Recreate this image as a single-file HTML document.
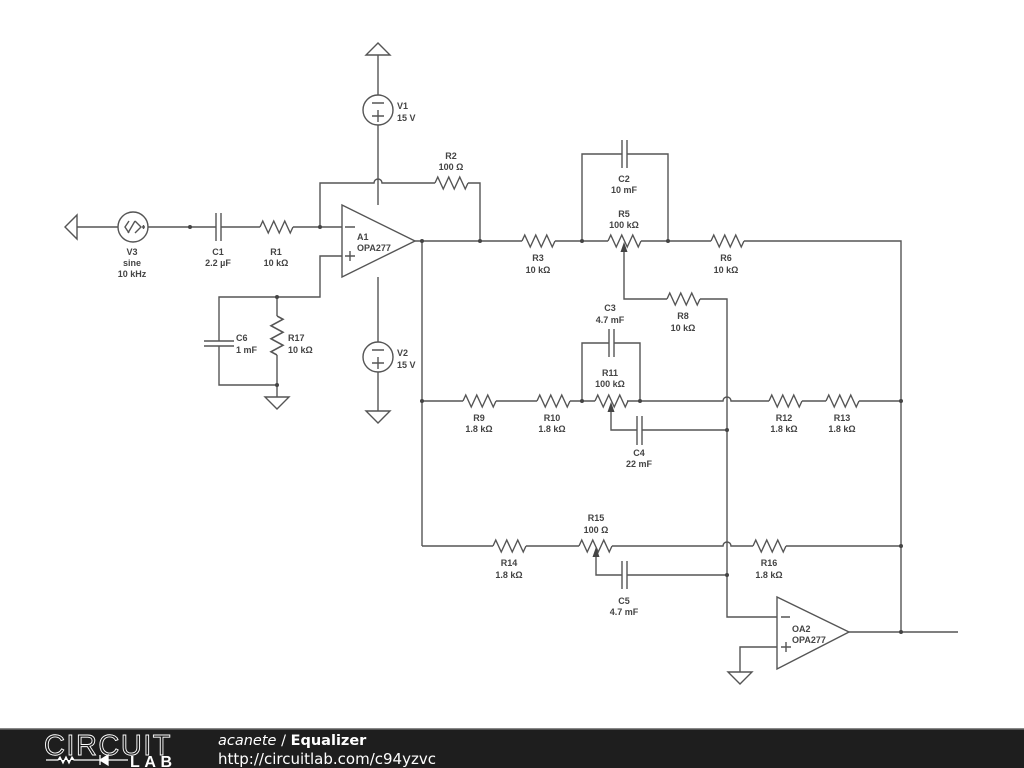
<!DOCTYPE html>
<html><head><meta charset="utf-8">
<style>
html,body{margin:0;padding:0;background:#fff;width:1024px;height:768px;overflow:hidden}
svg{display:block}
.w{fill:none;stroke:#555;stroke-width:1.4}
.t{font-family:"Liberation Sans",sans-serif;font-size:9px;font-weight:bold;fill:#444}
.d{fill:#444}
</style></head><body>
<svg width="1024" height="768" viewBox="0 0 1024 768" xmlns="http://www.w3.org/2000/svg">
<defs>
<path id="rz" d="M0,0 l2.75,-6 l5.5,12 l5.5,-12 l5.5,12 l5.5,-12 l5.5,12 l2.75,-6"/>
</defs>
<g class="w">
<path d="M378,43 L366,55 L390,55 Z"/>
<path d="M378,55 V95"/>
<circle cx="378" cy="110" r="15"/>
<path d="M372,103 H384 M372,116 H384 M378,110 V122"/>
<path d="M378,125 V205"/>
<path d="M378,277 V342"/>
<circle cx="378" cy="357" r="15"/>
<path d="M372,350 H384 M372,363 H384 M378,357 V369"/>
<path d="M378,372 V411 M366,411 H390 L378,423 Z"/>
<path d="M342,205 L342,277 L415,241 Z"/>
<path d="M345,227 H355 M345,256 H355 M350,251 V261"/>
<path d="M65,227 L77,215 L77,239 Z"/>
<path d="M77,227 H118"/>
<circle cx="133" cy="227" r="15"/>
<path d="M129,221 l-4,6 l4,6 M128,233 l7,-12 M135,233 l6,-6 l-6,-6 M142,227 h3 M143.5,225 v4"/>
<path d="M148,227 H216 M216,213 V241 M221,213 V241 M221,227 H260"/>
<use href="#rz" x="260" y="227"/>
<path d="M293,227 H342"/>
<path d="M320,227 V183 H374 a4,4 0 0 1 8,0 H435"/>
<use href="#rz" x="435" y="183"/>
<path d="M468,183 H480 V241"/>
<path d="M342,256 H320 V297 H219 V341 M204,341 H234 M204,346 H234 M219,346 V385 H277"/>
<path d="M277,297 V316"/>
<use href="#rz" transform="translate(277,316) rotate(90) scale(1.18,1)"/>
<path d="M277,355 V397 M265,397 H289 L277,409 Z"/>
<path d="M415,241 H522"/>
<use href="#rz" x="522" y="241"/>
<path d="M555,241 H608"/>
<use href="#rz" x="608" y="241"/>
<path d="M641,241 H711"/>
<use href="#rz" x="711" y="241"/>
<path d="M744,241 H901 V632"/>
<path d="M582,241 V154 H622 M622,140 V168 M627,140 V168 M627,154 H668 V241"/>
<path d="M624,252 V299 H667"/>
<use href="#rz" x="667" y="299"/>
<path d="M700,299 H727 V617 H777"/>
<path d="M422,241 V546"/>
<path d="M422,401 H463"/>
<use href="#rz" x="463" y="401"/>
<path d="M496,401 H537"/>
<use href="#rz" x="537" y="401"/>
<path d="M570,401 H595"/>
<use href="#rz" x="595" y="401"/>
<path d="M627,401 H723 a4,4 0 0 1 8,0 H769"/>
<use href="#rz" x="769" y="401"/>
<path d="M802,401 H826"/>
<use href="#rz" x="826" y="401"/>
<path d="M859,401 H901"/>
<path d="M582,401 V343 H609 M609,329 V357 M614,329 V357 M614,343 H640 V401"/>
<path d="M611,412 V430 H637 M637,416 V445 M642,416 V445 M642,430 H727"/>
<path d="M422,546 H493"/>
<use href="#rz" x="493" y="546"/>
<path d="M526,546 H579"/>
<use href="#rz" x="579" y="546"/>
<path d="M612,546 H723 a4,4 0 0 1 8,0 H753"/>
<use href="#rz" x="753" y="546"/>
<path d="M786,546 H901"/>
<path d="M596,557 V575 H622 M622,561 V589 M627,561 V589 M627,575 H727"/>
<path d="M777,597 L777,669 L849,632 Z"/>
<path d="M781,617 H790 M781,647 H791 M786,642 V652"/>
<path d="M849,632 H958"/>
<path d="M777,647 H740 V672 M728,672 H752 L740,684 Z"/>
</g>
<path class="d" d="M624,242 l-3.5,10 h7 Z M611,402 l-3.5,10 h7 Z M596,547 l-3.5,10 h7 Z"/>
<g class="d">
<circle cx="190" cy="227" r="2"/><circle cx="320" cy="227" r="2"/><circle cx="277" cy="297" r="2"/><circle cx="277" cy="385" r="2"/>
<circle cx="422" cy="241" r="2"/><circle cx="480" cy="241" r="2"/><circle cx="582" cy="241" r="2"/><circle cx="668" cy="241" r="2"/>
<circle cx="422" cy="401" r="2"/><circle cx="582" cy="401" r="2"/><circle cx="640" cy="401" r="2"/><circle cx="901" cy="401" r="2"/>
<circle cx="727" cy="430" r="2"/><circle cx="727" cy="575" r="2"/><circle cx="901" cy="546" r="2"/><circle cx="901" cy="632" r="2"/>
</g>
<g class="t">
<text x="397" y="109">V1</text><text x="397" y="121">15 V</text>
<text x="397" y="356">V2</text><text x="397" y="368">15 V</text>
<text x="357" y="240">A1</text><text x="357" y="251">OPA277</text>
<text x="792" y="632">OA2</text><text x="792" y="643">OPA277</text>
<text x="236" y="341">C6</text><text x="236" y="353">1 mF</text>
<text x="288" y="341">R17</text><text x="288" y="353">10 kΩ</text>
</g>
<g class="t" text-anchor="middle">
<text x="132" y="255">V3</text><text x="132" y="266">sine</text><text x="132" y="277">10 kHz</text>
<text x="218" y="255">C1</text><text x="218" y="266">2.2 µF</text>
<text x="276" y="255">R1</text><text x="276" y="266">10 kΩ</text>
<text x="451" y="159">R2</text><text x="451" y="170">100 Ω</text>
<text x="538" y="261">R3</text><text x="538" y="273">10 kΩ</text>
<text x="624" y="182">C2</text><text x="624" y="193">10 mF</text>
<text x="624" y="217">R5</text><text x="624" y="228">100 kΩ</text>
<text x="726" y="261">R6</text><text x="726" y="273">10 kΩ</text>
<text x="683" y="319">R8</text><text x="683" y="331">10 kΩ</text>
<text x="610" y="311">C3</text><text x="610" y="323">4.7 mF</text>
<text x="610" y="376">R11</text><text x="610" y="387">100 kΩ</text>
<text x="479" y="421">R9</text><text x="479" y="432">1.8 kΩ</text>
<text x="552" y="421">R10</text><text x="552" y="432">1.8 kΩ</text>
<text x="784" y="421">R12</text><text x="784" y="432">1.8 kΩ</text>
<text x="842" y="421">R13</text><text x="842" y="432">1.8 kΩ</text>
<text x="639" y="456">C4</text><text x="639" y="467">22 mF</text>
<text x="596" y="521">R15</text><text x="596" y="533">100 Ω</text>
<text x="509" y="566">R14</text><text x="509" y="578">1.8 kΩ</text>
<text x="769" y="566">R16</text><text x="769" y="578">1.8 kΩ</text>
<text x="624" y="604">C5</text><text x="624" y="615">4.7 mF</text>
</g>
<rect x="0" y="729" width="1024" height="39" fill="#1e1e1e"/>
<rect x="0" y="728" width="1024" height="1.5" fill="#888"/>
<text x="44" y="755" font-family="Liberation Sans,sans-serif" font-size="29" fill="none" stroke="#fff" stroke-width="0.9" letter-spacing="1.5" textLength="128">CIRCUIT</text>
<path d="M46,760 H58 l2,-3 l3,6 l3,-6 l3,6 l3,-6 l2,3 H100 M100,755 V765 M100,760 L108,755 V765 Z M108,755 V765 M108,760 H128" stroke="#fff" stroke-width="1.3" fill="#fff"/>
<text x="130" y="767" font-family="Liberation Sans,sans-serif" font-size="16" font-weight="bold" fill="#fff" textLength="42">LAB</text>
<text x="218" y="745" font-family="DejaVu Sans,sans-serif" font-size="14.5" fill="#fff"><tspan font-style="italic">acanete</tspan> / <tspan font-weight="bold">Equalizer</tspan></text>
<text x="218" y="764" font-family="DejaVu Sans,sans-serif" font-size="15" fill="#fff">http://circuitlab.com/c94yzvc</text>
</svg>
</body></html>
